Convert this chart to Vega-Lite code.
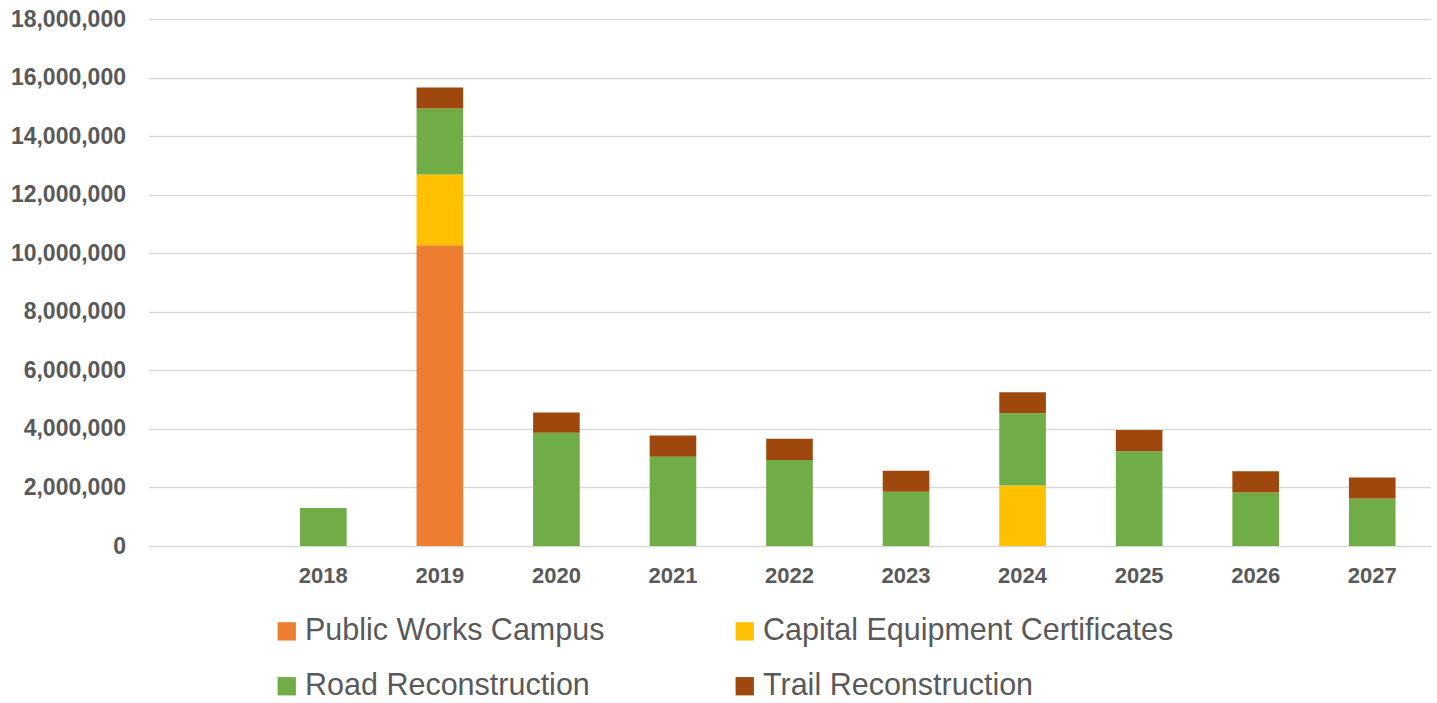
{
  "$schema": "https://vega.github.io/schema/vega-lite/v6.json",
  "autosize": {"type": "none"},
  "padding": {"left": 148.5, "top": 19, "right": 6.5, "bottom": 157},
  "width": 1282,
  "height": 527,
  "background": "white",
  "data": {
    "values": [
      {"year": "2018", "series": "Road Reconstruction", "rank": 3, "amount": 1300000},
      {"year": "2019", "series": "Public Works Campus", "rank": 1, "amount": 10270000},
      {"year": "2019", "series": "Capital Equipment Certificates", "rank": 2, "amount": 2420000},
      {"year": "2019", "series": "Road Reconstruction", "rank": 3, "amount": 2250000},
      {"year": "2019", "series": "Trail Reconstruction", "rank": 4, "amount": 720000},
      {"year": "2020", "series": "Road Reconstruction", "rank": 3, "amount": 3870000},
      {"year": "2020", "series": "Trail Reconstruction", "rank": 4, "amount": 690000},
      {"year": "2021", "series": "Road Reconstruction", "rank": 3, "amount": 3050000},
      {"year": "2021", "series": "Trail Reconstruction", "rank": 4, "amount": 720000},
      {"year": "2022", "series": "Road Reconstruction", "rank": 3, "amount": 2940000},
      {"year": "2022", "series": "Trail Reconstruction", "rank": 4, "amount": 720000},
      {"year": "2023", "series": "Road Reconstruction", "rank": 3, "amount": 1850000},
      {"year": "2023", "series": "Trail Reconstruction", "rank": 4, "amount": 720000},
      {"year": "2024", "series": "Capital Equipment Certificates", "rank": 2, "amount": 2070000},
      {"year": "2024", "series": "Road Reconstruction", "rank": 3, "amount": 2460000},
      {"year": "2024", "series": "Trail Reconstruction", "rank": 4, "amount": 720000},
      {"year": "2025", "series": "Road Reconstruction", "rank": 3, "amount": 3240000},
      {"year": "2025", "series": "Trail Reconstruction", "rank": 4, "amount": 720000},
      {"year": "2026", "series": "Road Reconstruction", "rank": 3, "amount": 1830000},
      {"year": "2026", "series": "Trail Reconstruction", "rank": 4, "amount": 720000},
      {"year": "2027", "series": "Road Reconstruction", "rank": 3, "amount": 1620000},
      {"year": "2027", "series": "Trail Reconstruction", "rank": 4, "amount": 720000}
    ]
  },
  "mark": {"type": "bar"},
  "encoding": {
    "x": {
      "field": "year",
      "type": "nominal",
      "scale": {
        "domain": ["", "2018", "2019", "2020", "2021", "2022", "2023", "2024", "2025", "2026", "2027"],
        "paddingInner": 0.6,
        "paddingOuter": 0.3
      },
      "axis": {
        "title": null,
        "labelAngle": 0,
        "domain": false,
        "ticks": false,
        "labelFont": "Liberation Sans",
        "labelFontWeight": "bold",
        "labelFontSize": 22,
        "labelColor": "#595959",
        "labelPadding": 19
      }
    },
    "y": {
      "field": "amount",
      "type": "quantitative",
      "stack": "zero",
      "scale": {"domain": [0, 18000000], "nice": false},
      "axis": {
        "title": null,
        "values": [0, 2000000, 4000000, 6000000, 8000000, 10000000, 12000000, 14000000, 16000000, 18000000],
        "format": ",d",
        "domain": false,
        "ticks": false,
        "grid": true,
        "gridColor": "#D9D9D9",
        "gridWidth": 1.5,
        "labelFont": "Liberation Sans",
        "labelFontWeight": "bold",
        "labelFontSize": 23,
        "labelColor": "#595959",
        "labelPadding": 23
      }
    },
    "color": {
      "field": "series",
      "type": "nominal",
      "scale": {
        "domain": ["Public Works Campus", "Capital Equipment Certificates", "Road Reconstruction", "Trail Reconstruction"],
        "range": ["#ED7D31", "#FFC000", "#70AD47", "#9E480E"]
      },
      "legend": {
        "title": null,
        "orient": "none",
        "legendX": 123,
        "legendY": 597,
        "columns": 2,
        "direction": "horizontal",
        "padding": 0,
        "symbolType": "square",
        "symbolSize": 335,
        "symbolStrokeWidth": 0,
        "symbolOpacity": 1,
        "labelFont": "Liberation Sans",
        "labelFontSize": 30.5,
        "labelColor": "#595959",
        "labelOffset": 3,
        "labelLimit": 600,
        "columnPadding": 125,
        "rowPadding": 24
      }
    },
    "order": {"field": "rank", "type": "quantitative"}
  },
  "config": {"view": {"stroke": null}}
}
